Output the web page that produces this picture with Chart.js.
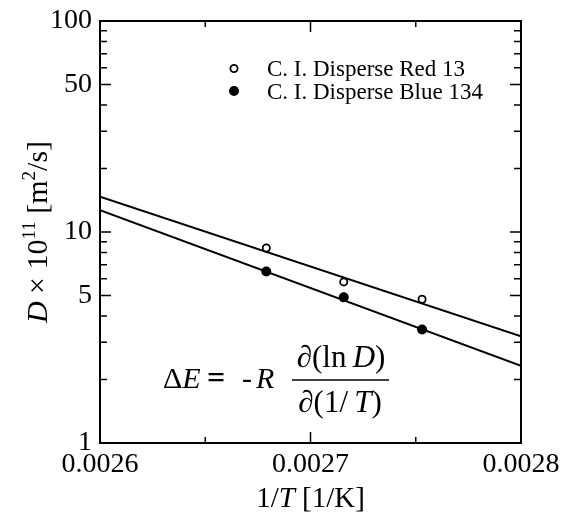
<!DOCTYPE html>
<html>
<head>
<meta charset="utf-8">
<script src="https://cdn.jsdelivr.net/npm/chart.js@4.4.1/dist/chart.umd.min.js"></script>
<style>html,body{margin:0;padding:0;background:#fff}</style>
</head>
<body>
<div style="width:572px;height:518px"><canvas id="c" width="572" height="518"></canvas></div>
<script>
// 1/T [1/K] and D x 10^11 [m2/s]
const invT = [0.002679, 0.0027158, 0.002753];
const red13 = [8.4, 5.8, 4.8];
const blue134 = [6.5, 4.9, 3.45];
// fitted lines, ends at the axis limits
const fitX = [0.0026, 0.0028];
const fitRed13 = [14.7, 3.2];
const fitBlue134 = [12.7, 2.32];

const xTicks = [0.0026, 0.0027, 0.0028];
const xMinor = [0.00265, 0.00275];
const yTicks = [1, 5, 10, 50, 100];
const yMinor = [2, 3, 4, 6, 7, 8, 9, 20, 30, 40, 60, 70, 80, 90];

const SERIF = '"Liberation Serif", "DejaVu Serif", serif';

function pts(xs, ys) {
  return xs.map((x, i) => ({ x: x, y: ys[i] }));
}

// draw a list of [text, font, dy] pieces one after another
function richText(ctx, parts, x, y, align) {
  let total = 0;
  parts.forEach(p => { ctx.font = p[1]; total += ctx.measureText(p[0]).width; });
  let cx = align === 'center' ? x - total / 2 : x;
  parts.forEach(p => {
    ctx.font = p[1];
    ctx.fillText(p[0], cx, y + (p[2] || 0));
    cx += ctx.measureText(p[0]).width;
  });
  return total;
}

const decor = {
  id: 'decor',
  afterDraw(chart) {
    const ctx = chart.ctx;
    const a = chart.chartArea;
    const xs = chart.scales.x, ys = chart.scales.y;
    ctx.save();
    ctx.strokeStyle = '#000';
    ctx.fillStyle = '#000';
    ctx.lineWidth = 2;
    ctx.strokeRect(a.left, a.top, a.right - a.left, a.bottom - a.top);

    ctx.lineWidth = 1.5;
    ctx.beginPath();
    const xt = (v, len) => {
      const px = xs.getPixelForValue(v);
      ctx.moveTo(px, a.bottom); ctx.lineTo(px, a.bottom - len);
      ctx.moveTo(px, a.top); ctx.lineTo(px, a.top + len);
    };
    const yt = (v, len) => {
      const py = ys.getPixelForValue(v);
      ctx.moveTo(a.left, py); ctx.lineTo(a.left + len, py);
      ctx.moveTo(a.right, py); ctx.lineTo(a.right - len, py);
    };
    xTicks.forEach(v => xt(v, 11));
    xMinor.forEach(v => xt(v, 6));
    yTicks.forEach(v => yt(v, 11));
    yMinor.forEach(v => yt(v, 7));
    ctx.stroke();

    // legend
    ctx.textAlign = 'left';
    ctx.textBaseline = 'alphabetic';
    ctx.font = '23px ' + SERIF;
    ctx.lineWidth = 1.8;
    ctx.beginPath();
    ctx.arc(234, 68.5, 3.6, 0, Math.PI * 2);
    ctx.fillStyle = '#fff'; ctx.fill(); ctx.stroke();
    ctx.fillStyle = '#000';
    ctx.beginPath();
    ctx.arc(234, 91, 5, 0, Math.PI * 2);
    ctx.fill();
    ctx.fillText('C. I. Disperse Red 13', 267, 76);
    ctx.fillText('C. I. Disperse Blue 134', 267, 99);

    // formula
    const f = '30px ' + SERIF, fi = 'italic 30px ' + SERIF, fb = 'bold 32px ' + SERIF;
    richText(ctx, [['\u0394', f], ['E', fi]], 163, 388);
    richText(ctx, [['=', fb]], 207, 388);
    richText(ctx, [['-', f]], 242, 388);
    richText(ctx, [['R', fi]], 256, 388);
    const g = '31px ' + SERIF, gi = 'italic 31px ' + SERIF;
    richText(ctx, [['\u2202(ln\u2009', g], ['D', gi], [')', g]], 341, 367, 'center');
    richText(ctx, [['\u2202(1/\u2009', g], ['T', gi], [')', g]], 340, 412, 'center');
    ctx.lineWidth = 1.5;
    ctx.beginPath();
    ctx.moveTo(292, 380); ctx.lineTo(389, 380);
    ctx.stroke();

    // axis titles
    const t = '29px ' + SERIF, ti = 'italic 29px ' + SERIF;
    richText(ctx, [['1/', t], ['T', ti], [' [1/K]', t]], (a.left + a.right) / 2, 507, 'center');
    const u = '30px ' + SERIF, ui = 'italic 30px ' + SERIF, us = '19px ' + SERIF;
    ctx.translate(47, (a.top + a.bottom) / 2);
    ctx.rotate(-Math.PI / 2);
    richText(ctx, [['D', ui], [' \u00d7 10', u], ['11', us, -12], [' [m', u], ['2', us, -12], ['/s]', u]], 0, 0, 'center');
    ctx.restore();
  }
};

new Chart(document.getElementById('c'), {
  type: 'scatter',
  data: {
    datasets: [
      { label: 'C. I. Disperse Red 13', data: pts(invT, red13), pointRadius: 3.6,
        pointBorderWidth: 1.8, pointBackgroundColor: '#fff', pointBorderColor: '#000' },
      { label: 'C. I. Disperse Blue 134', data: pts(invT, blue134), pointRadius: 5,
        pointBorderWidth: 0, pointBackgroundColor: '#000', pointBorderColor: '#000' },
      { label: 'fit Red 13', data: pts(fitX, fitRed13), showLine: true, pointRadius: 0,
        borderColor: '#000', borderWidth: 2 },
      { label: 'fit Blue 134', data: pts(fitX, fitBlue134), showLine: true, pointRadius: 0,
        borderColor: '#000', borderWidth: 2 }
    ]
  },
  options: {
    responsive: false,
    animation: false,
    layout: { padding: { left: 0, right: 51, top: 21, bottom: 0 } },
    plugins: { legend: { display: false }, tooltip: { enabled: false } },
    scales: {
      x: {
        type: 'linear', min: 0.0026, max: 0.0028,
        grid: { display: false, tickLength: 0 }, border: { display: false },
        afterBuildTicks: s => { s.ticks = xTicks.map(v => ({ value: v })); },
        afterFit: s => { s.height = 75; s.paddingLeft = 0; s.paddingRight = 0; },
        ticks: { color: '#000', padding: 5, maxRotation: 0,
          font: { family: SERIF, size: 28 }, callback: v => v.toFixed(4) }
      },
      y: {
        type: 'logarithmic', min: 1, max: 100,
        grid: { display: false, tickLength: 0 }, border: { display: false },
        afterBuildTicks: s => { s.ticks = yTicks.map(v => ({ value: v })); },
        afterFit: s => { s.width = 100; s.paddingTop = 0; s.paddingBottom = 0; },
        ticks: { color: '#000', padding: 8,
          font: { family: SERIF, size: 28 }, callback: v => String(v) }
      }
    }
  },
  plugins: [decor]
});
</script>
</body>
</html>
